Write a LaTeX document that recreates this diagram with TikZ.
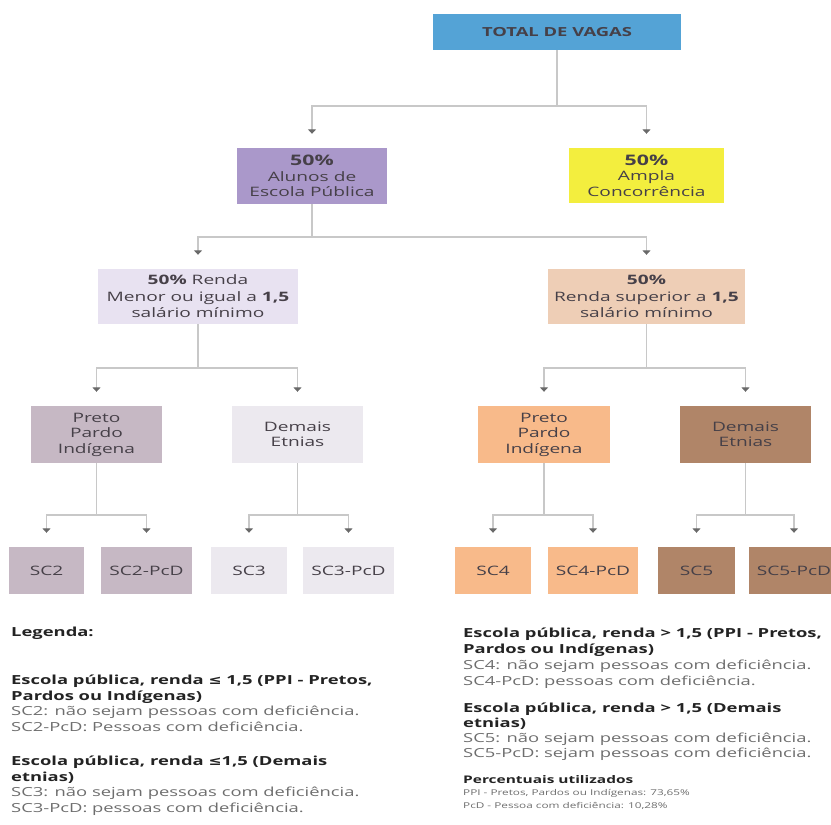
\documentclass[tikz,border=0pt]{standalone}
\usepackage{fontspec}
\usepackage{xcolor}
\usepackage{tikz}
\setmainfont{Open Sans}[FakeStretch=1.47]
\newfontfamily\symfont{DejaVu Sans}[FakeStretch=1.25]
\usetikzlibrary{arrows.meta,positioning}
\definecolor{totalblue}{RGB}{84,163,214}
\definecolor{escolapurple}{RGB}{170,152,202}
\definecolor{amplayellow}{RGB}{243,238,62}
\definecolor{rendalow}{RGB}{232,226,241}
\definecolor{rendahigh}{RGB}{238,206,182}
\definecolor{ppilow}{RGB}{198,184,196}
\definecolor{demlow}{RGB}{236,233,239}
\definecolor{ppihigh}{RGB}{248,186,138}
\definecolor{demhigh}{RGB}{176,133,104}
\definecolor{linegray}{RGB}{200,200,200}
\definecolor{tipgray}{RGB}{105,105,105}
\definecolor{boxtext}{RGB}{70,64,72}
\definecolor{legdark}{RGB}{35,35,35}
\definecolor{leggray}{RGB}{110,110,110}

\begin{document}
\begin{tikzpicture}[
    x=1pt, y=-1pt,
    box/.style={rectangle, inner sep=0pt, align=center, text=boxtext, font=\fontsize{13}{15.5}\selectfont},
    sc/.style={box, minimum height=47pt},
    arrow/.style={draw=linegray, line width=1.6pt, -{Triangle[width=8pt,length=4.5pt,color=tipgray]}, shorten >=14pt},
    legend/.style={anchor=base west, align=left, inner sep=0pt, text=leggray, font=\fontsize{12.5}{15.4}\selectfont}
]
    \clip (0,0) rectangle (831,825);
    \fill[white] (0,0) rectangle (831,825);

    \node[box, fill=totalblue, minimum width=248pt, minimum height=36pt, font=\bfseries\fontsize{12.5}{14}\selectfont] (total) at (557,32) {TOTAL DE VAGAS};
    \node[box, fill=escolapurple, minimum width=150pt, minimum height=56pt] (escola) at (312,176) {{\bfseries\fontsize{14.5}{14}\selectfont 50\%}\\Alunos de\\Escola Pública};
    \node[box, fill=amplayellow, minimum width=155pt, minimum height=55pt] (ampla) at (646.5,175.5) {{\bfseries\fontsize{14.5}{14}\selectfont 50\%}\\Ampla\\Concorrência};

    \node[box, fill=rendalow, minimum width=200pt, minimum height=55pt, font=\fontsize{13}{16.5}\selectfont] (rendaA) at (198,296.5) {\textbf{50\%} Renda\\Menor ou igual a \textbf{1,5}\\salário mínimo};
    \node[box, fill=rendahigh, minimum width=197pt, minimum height=55pt, font=\fontsize{13}{16.5}\selectfont] (rendaB) at (646.5,296.5) {\textbf{50\%}\\Renda superior a \textbf{1,5}\\salário mínimo};

    \node[box, fill=ppilow, minimum width=131pt, minimum height=57pt] (ppiA) at (96.5,434.5) {Preto\\Pardo\\Indígena};
    \node[box, fill=demlow, minimum width=131pt, minimum height=57pt] (demA) at (297.5,434.5) {Demais\\Etnias};
    \node[box, fill=ppihigh, minimum width=132pt, minimum height=57pt] (ppiB) at (544,434.5) {Preto\\Pardo\\Indígena};
    \node[box, fill=demhigh, minimum width=131pt, minimum height=57pt] (demB) at (745.5,434.5) {Demais\\Etnias};

    \node[sc, fill=ppilow, minimum width=75pt] (sc2) at (46.5,570.5) {SC2};
    \node[sc, fill=ppilow, minimum width=91pt] (sc2pcd) at (146.5,570.5) {SC2-PcD};
    \node[sc, fill=demlow, minimum width=76pt] (sc3) at (249,570.5) {SC3};
    \node[sc, fill=demlow, minimum width=91pt] (sc3pcd) at (348.5,570.5) {SC3-PcD};
    \node[sc, fill=ppihigh, minimum width=76pt] (sc4) at (493,570.5) {SC4};
    \node[sc, fill=ppihigh, minimum width=90pt] (sc4pcd) at (593,570.5) {SC4-PcD};
    \node[sc, fill=demhigh, minimum width=77pt] (sc5) at (696.5,570.5) {SC5};
    \node[sc, fill=demhigh, minimum width=90pt] (sc5pcd) at (794,570.5) {SC5-PcD};

    \draw[arrow] (total.south) -- ++(0,55.5) -| (escola);
    \draw[arrow] (total.south) -- ++(0,55.5) -| (ampla);
    \draw[arrow] (escola.south) -- ++(0,33) -| (rendaA);
    \draw[arrow] (escola.south) -- ++(0,33) -| (rendaB);
    \draw[arrow] (rendaA.south) -- ++(0,44) -| (ppiA);
    \draw[arrow] (rendaA.south) -- ++(0,44) -| (demA);
    \draw[arrow] (rendaB.south) -- ++(0,44) -| (ppiB);
    \draw[arrow] (rendaB.south) -- ++(0,44) -| (demB);
    \draw[arrow] (ppiA.south) -- ++(0,52) -| (sc2);
    \draw[arrow] (ppiA.south) -- ++(0,52) -| (sc2pcd);
    \draw[arrow] (demA.south) -- ++(0,52) -| (sc3);
    \draw[arrow] (demA.south) -- ++(0,52) -| (sc3pcd);
    \draw[arrow] (ppiB.south) -- ++(0,52) -| (sc4);
    \draw[arrow] (ppiB.south) -- ++(0,52) -| (sc4pcd);
    \draw[arrow] (demB.south) -- ++(0,52) -| (sc5);
    \draw[arrow] (demB.south) -- ++(0,52) -| (sc5pcd);

    % legenda
    \node[legend, text=legdark, font=\bfseries\fontsize{12.5}{15}\selectfont] (legtitle) at (11,636) {Legenda:};
    \node[legend] (legA) at (11,731) {\textcolor{legdark}{\bfseries Escola pública, renda {\symfont≤} 1,5 (PPI - Pretos,}\\\textcolor{legdark}{\bfseries Pardos ou Indígenas)}\\SC2: não sejam pessoas com deficiência.\\SC2-PcD: Pessoas com deficiência.};
    \node[legend] (legB) at (11,812) {\textcolor{legdark}{\bfseries Escola pública, renda {\symfont≤}1,5 (Demais}\\\textcolor{legdark}{\bfseries etnias)}\\SC3: não sejam pessoas com deficiência.\\SC3-PcD: pessoas com deficiência.};
    \node[legend, font=\fontsize{12.5}{16}\selectfont] (legC) at (463,685) {\textcolor{legdark}{\bfseries Escola pública, renda > 1,5 (PPI - Pretos,}\\\textcolor{legdark}{\bfseries Pardos ou Indígenas)}\\SC4: não sejam pessoas com deficiência.\\SC4-PcD: pessoas com deficiência.};
    \node[legend, font=\fontsize{12.5}{15}\selectfont] (legD) at (463,757) {\textcolor{legdark}{\bfseries Escola pública, renda > 1,5 (Demais}\\\textcolor{legdark}{\bfseries etnias)}\\SC5: não sejam pessoas com deficiência.\\SC5-PcD: sejam pessoas com deficiência.};
    \node[legend, font=\fontsize{8}{12.5}\selectfont] (legE) at (463,808) {\textcolor{legdark}{\bfseries\fontsize{10.5}{12.5}\selectfont Percentuais utilizados}\\PPI - Pretos, Pardos ou Indígenas: 73,65\%\\PcD - Pessoa com deficiência: 10,28\%};
\end{tikzpicture}
\end{document}
